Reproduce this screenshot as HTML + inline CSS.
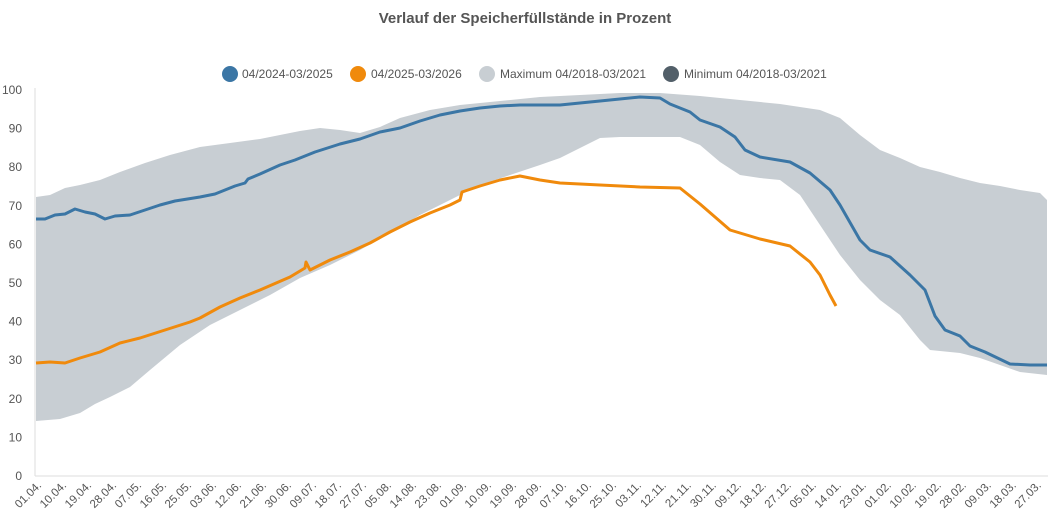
<!DOCTYPE html>
<html><head><meta charset="utf-8"><style>
body{margin:0;background:#fff}
svg{display:block;font-family:"Liberation Sans",sans-serif}
</style></head><body>
<svg id="s" width="1051" height="525" viewBox="0 0 1051 525">
<text x="525" y="23" text-anchor="middle" font-size="15" font-weight="bold" fill="#555">Verlauf der Speicherfüllstände in Prozent</text>
<g font-size="12" fill="#555">
<circle cx="230" cy="74" r="8" fill="#3b76a5"/><text x="242" y="78">04/2024-03/2025</text>
<circle cx="358" cy="74" r="8" fill="#f08a0c"/><text x="371" y="78">04/2025-03/2026</text>
<circle cx="487" cy="74" r="8" fill="#c8ced3"/><text x="500" y="78">Maximum 04/2018-03/2021</text>
<circle cx="671" cy="74" r="8" fill="#525f69"/><text x="684" y="78">Minimum 04/2018-03/2021</text>
</g>
<path id="band" fill="#c8ced3"/>
<line x1="35" y1="476" x2="1048" y2="476" stroke="#ddd"/>
<line x1="35" y1="88" x2="35" y2="476" stroke="#ddd"/>
<g id="yl" font-size="12" fill="#555" text-anchor="end"></g>
<g id="xl" font-size="11.5" fill="#555" text-anchor="end"></g>
<path id="blue" fill="none" stroke="#3b76a5" stroke-width="3" stroke-linejoin="round"/>
<path id="orange" fill="none" stroke="#f08a0c" stroke-width="3" stroke-linejoin="round"/>
</svg>
<script>
function P(a){return a.map((p,i)=>(i?'L':'M')+p[0]+','+p[1]).join(' ');}
var up=[[36,197],[50,195],[65,188],[80,185],[100,180],[120,172],[145,163],[170,155],[200,147],[230,143],[260,139],[280,135],[300,131],[320,128],[340,130],[360,133],[380,127],[400,118],[430,110],[460,105],[500,101],[540,97],[580,95],[620,93],[660,93],[700,96],[740,100],[780,104],[820,110],[840,118],[860,135],[880,150],[900,158],[920,167],[940,172],[960,178],[980,183],[1000,186],[1020,190],[1040,193],[1047,200]];
var lo=[[36,421],[60,419],[80,413],[95,404],[110,397],[130,387],[150,370],[180,345],[210,325],[240,310],[270,295],[300,278],[330,265],[360,250],[390,233],[420,215],[450,200],[480,185],[510,175],[540,165],[560,158],[580,148],[600,138],[620,137],[680,137],[700,145],[720,162],[740,175],[760,178],[780,180],[800,195],[820,225],[840,255],[860,280],[880,300],[900,315],[920,340],[930,350],[960,353],[980,358],[1000,365],[1020,372],[1047,375]];
document.getElementById('band').setAttribute('d',P(up)+' '+P(lo.slice().reverse()).replace('M','L')+'Z');
var bl=[[36,219],[45,219],[55,215],[65,214],[75,209],[85,212],[95,214],[105,219],[115,216],[130,215],[145,210],[160,205],[175,201],[200,197],[215,194],[235,186],[245,183],[248,179],[260,174],[280,165],[295,160],[315,152],[340,144],[360,139],[380,132],[400,128],[420,121],[440,115],[460,111],[480,108],[500,106],[520,105],[560,105],[600,101],[640,97],[660,98],[670,104],[690,112],[700,120],[720,127],[735,137],[745,150],[760,157],[790,162],[810,173],[830,190],[840,205],[860,240],[870,250],[890,257],[910,275],[925,290],[935,316],[945,330],[960,336],[970,346],[985,352],[1010,364],[1030,365],[1047,365]];
var or=[[36,363],[50,362],[65,363],[80,358],[100,352],[120,343],[140,338],[165,330],[190,322],[200,318],[220,307],[240,298],[260,290],[290,277],[305,268],[306,262],[310,270],[330,260],[350,252],[370,243],[390,232],[410,222],[430,213],[450,205],[460,200],[462,192],[480,186],[500,180],[520,176],[540,180],[560,183],[600,185],[640,187],[680,188],[700,204],[715,217],[730,230],[760,239],[790,246],[810,262],[820,275],[830,295],[836,306]];
document.getElementById('blue').setAttribute('d',P(bl));
document.getElementById('orange').setAttribute('d',P(or));
var yl='';for(var v=0;v<=100;v+=10){yl+='<text x="22" y="'+(476-v*3.86+4)+'">'+v+'</text>';}
document.getElementById('yl').innerHTML=yl;
var xl='',d0=new Date(2025,3,1);
for(var i=0;i<=40;i++){var d=new Date(d0.getTime()+i*9*86400000);var s=('0'+d.getDate()).slice(-2)+'.'+('0'+(d.getMonth()+1)).slice(-2)+'.';var x=36+i*9*2.777+6,y=486;xl+='<text transform="translate('+x+','+y+') rotate(-45)">'+s+'</text>';}
document.getElementById('xl').innerHTML=xl;
</script>
</body></html>
